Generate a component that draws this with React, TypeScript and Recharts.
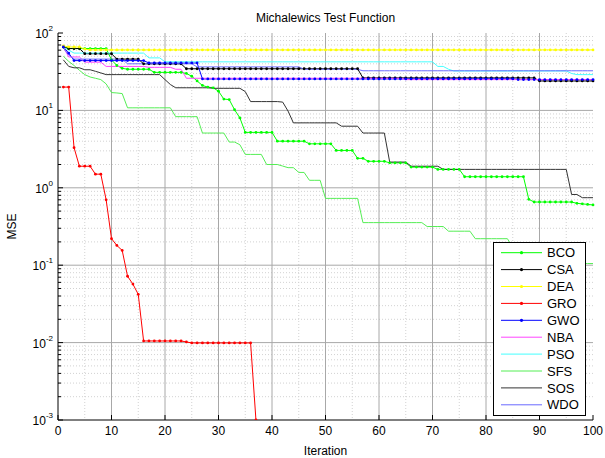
import {
  CartesianGrid,
  Legend,
  Line,
  LineChart,
  XAxis,
  YAxis,
} from "recharts";

const FONT = "'Liberation Sans', Arial, Helvetica, sans-serif";

const iterations = Array.from({ length: 100 }, (_, i) => i + 1);

// best-so-far MSE per iteration
const bco = [
  66, 63, 63, 63, 63, 63, 63, 63, 63, 45,
  38, 35, 34, 34, 34, 34, 34, 31, 31, 31,
  31, 31, 31, 30, 27.6, 24, 21, 20, 19.6, 17.7,
  14, 13.8, 10.2, 8, 5.2, 5.2, 5.2, 5.2, 5.2, 5.2,
  4, 4, 4, 4, 4, 4, 3.7, 3.7, 3.7, 3.7,
  3.7, 3.04, 3.04, 3.04, 3.04, 2.4, 2.4, 2.2, 2.2, 2.2,
  2.2, 2.1, 2.1, 2.1, 2.1, 1.85, 1.85, 1.85, 1.85, 1.85,
  1.73, 1.73, 1.73, 1.73, 1.73, 1.39, 1.39, 1.39, 1.39, 1.39,
  1.39, 1.39, 1.39, 1.39, 1.39, 1.39, 1.39, 0.71, 0.655, 0.655,
  0.655, 0.655, 0.655, 0.655, 0.655, 0.655, 0.63, 0.62, 0.61, 0.6,
];

const csa = [
  66, 63, 63, 63, 54, 54, 54, 54, 54, 54,
  46, 46, 46, 46, 46, 40, 40, 40, 40, 40,
  40, 40, 40, 34.5, 34.5, 34.5, 34.5, 34.5, 34.5, 34.5,
  34.5, 34.5, 34.5, 34.5, 34.5, 34.5, 34.5, 34.5, 34.5, 34.5,
  34.5, 34.5, 34.5, 34.5, 34.5, 34.5, 34.5, 34.5, 34.5, 34.5,
  34.5, 34.5, 34.5, 34.5, 34.5, 34.5, 26.3, 26.3, 26.3, 26.3,
  26.3, 26.3, 26.3, 26.3, 26.3, 26.3, 26.3, 26.3, 26.3, 26.3,
  26.3, 26.3, 26.3, 26.3, 26.3, 26.3, 26.3, 26.3, 26.3, 26.3,
  26.3, 26.3, 26.3, 26.3, 26.3, 26.3, 26.3, 26.3, 26.3, 24,
  24, 24, 24, 24, 24, 24, 24, 24, 24, 24,
];

const dea = [
  68, 66, 66, 66, 62, 60.5, 60.5, 60.5, 60.5, 60.5,
  60.5, 60.5, 60.5, 60.5, 60.5, 60.5, 60.5, 60.5, 60.5, 60.5,
  60.5, 60.5, 60.5, 60.5, 60.5, 60.5, 60.5, 60.5, 60.5, 60.5,
  60.5, 60.5, 60.5, 60.5, 60.5, 60.5, 60.5, 60.5, 60.5, 60.5,
  60.5, 60.5, 60.5, 60.5, 60.5, 60.5, 60.5, 60.5, 60.5, 60.5,
  60.5, 60.5, 60.5, 60.5, 60.5, 60.5, 60.5, 60.5, 60.5, 60.5,
  60.5, 60.5, 60.5, 60.5, 60.5, 60.5, 60.5, 60.5, 60.5, 60.5,
  60.5, 60.5, 60.5, 60.5, 60.5, 60.5, 60.5, 60.5, 60.5, 60.5,
  60.5, 60.5, 60.5, 60.5, 60.5, 60.5, 60.5, 60.5, 60.5, 60.5,
  60.5, 60.5, 60.5, 60.5, 60.5, 60.5, 60.5, 60.5, 60.5, 60.5,
];

const gro = [
  20, 20, 3.3, 1.9, 1.9, 1.9, 1.5, 1.5, 0.7, 0.22,
  0.18, 0.155, 0.072, 0.057, 0.042, 0.0105, 0.0105, 0.0105, 0.0105, 0.0105,
  0.0105, 0.0105, 0.0105, 0.0102, 0.0099, 0.0099, 0.0099, 0.0099, 0.0099, 0.0099,
  0.0099, 0.0099, 0.0099, 0.0099, 0.0099, 0.0099, 0.001, null, null, null,
  null, null, null, null, null, null, null, null, null, null,
  null, null, null, null, null, null, null, null, null, null,
  null, null, null, null, null, null, null, null, null, null,
  null, null, null, null, null, null, null, null, null, null,
  null, null, null, null, null, null, null, null, null, null,
  null, null, null, null, null, null, null, null, null, null,
];

const gwo = [
  66, 55, 44, 44, 44, 44, 44, 44, 44, 44,
  44, 44, 44, 44, 44, 44, 41, 41, 41, 41,
  41, 41, 41, 41, 41, 41, 25.5, 25.5, 25.5, 25.5,
  25.5, 25.5, 25.5, 25.5, 25.5, 25.5, 25.5, 25.5, 25.5, 25.5,
  25.5, 25.5, 25.5, 25.5, 25.5, 25.5, 25.5, 25.5, 25.5, 25.5,
  25.5, 25.5, 25.5, 25.5, 25.5, 25.5, 25.5, 25.5, 25.5, 25.5,
  25.5, 25.5, 25.5, 25.5, 25.5, 25.5, 25.5, 25.5, 25.5, 25.5,
  25.5, 25.5, 25.5, 25.5, 25.5, 25.5, 25.5, 25.5, 25.5, 25.5,
  25.5, 25.5, 25.5, 25.5, 25.5, 25, 25, 25, 25, 25,
  25, 25, 25, 25, 25, 25, 25, 25, 25, 25,
];

const nba = [
  66, 49, 49, 49, 42, 42, 42, 42, 37, 37,
  37, 37, 37, 37, 37, 37, 36, 36, 36, 36,
  36, 34, 34, 26, 26, 26, 26, 26, 26, 26,
  26, 26, 26, 26, 26, 26, 26, 26, 26, 26,
  26, 26, 26, 26, 26, 26, 26, 26, 26, 26,
  26, 26, 26, 26, 26, 26, 26, 26, 26, 26,
  26, 26, 26, 26, 25, 25, 25, 25, 25, 25,
  25, 25, 25, 25, 25, 25, 25, 25, 25, 25,
  25, 25, 25, 25, 25, 25, 25, 25, 25, 25,
  25, 25, 25, 25, 25, 25, 25, 25, 25, 25,
];

const pso = [
  66, 60, 55, 55, 55, 55, 55, 55, 55, 55,
  55, 55, 55, 55, 55, 55, 47.7, 47.7, 47.7, 42.4,
  42.4, 42.4, 42.4, 42.4, 42.4, 42.4, 42.4, 42.4, 42.4, 42.4,
  42.4, 42.4, 42.4, 42.4, 42.4, 42.4, 42.4, 42.4, 42.4, 42.4,
  42.4, 42.4, 42.4, 42.4, 42.4, 42.4, 42.4, 42.4, 42.4, 42.4,
  42.4, 42.4, 42.4, 42.4, 42.4, 42.4, 42.4, 42.4, 42.4, 42.4,
  42.4, 42.4, 42.4, 42.4, 42.4, 42.4, 42.4, 42.4, 42.4, 42.4,
  37, 37, 34, 32.3, 32.3, 32.3, 32.3, 32.3, 32.3, 32.3,
  32.3, 32.3, 32.3, 32.3, 32.3, 32.3, 32.3, 32.3, 32.3, 32.3,
  32.3, 32.3, 32.3, 32.3, 32.3, 30, 29, 29, 29, 29,
];

const sfs = [
  50, 43, 38, 33, 29, 27, 26, 25, 22, 17,
  16.8, 16.5, 10.8, 10.8, 10.8, 10.8, 10.8, 10.8, 10.8, 10.8,
  10.8, 8.3, 8.3, 8.3, 8.3, 8.3, 5.1, 5.1, 5.1, 5.1,
  5.1, 3.9, 3.9, 3.6, 2.7, 2.7, 2.7, 2.7, 2, 2,
  2, 1.91, 1.82, 1.82, 1.58, 1.58, 1.25, 1.25, 1.25, 0.73,
  0.73, 0.73, 0.73, 0.73, 0.73, 0.73, 0.355, 0.355, 0.355, 0.355,
  0.355, 0.355, 0.355, 0.355, 0.355, 0.355, 0.355, 0.355, 0.316, 0.316,
  0.316, 0.316, 0.275, 0.275, 0.275, 0.275, 0.275, 0.22, 0.22, 0.22,
  0.22, 0.22, 0.22, 0.22, 0.17, 0.17, 0.17, 0.17, 0.17, 0.17,
  0.17, 0.17, 0.13, 0.13, 0.13, 0.13, 0.105, 0.105, 0.105, 0.105,
];

const sos = [
  45, 37, 35.5, 35.5, 33.5, 33.5, 32, 30.5, 29, 29,
  29, 29, 29, 29, 29, 29, 29, 29, 29, 25,
  21.6, 19.6, 19.6, 19.6, 19.6, 19.6, 19.6, 19.6, 19.3, 19.3,
  19.3, 19.3, 19.3, 19.3, 17.5, 13, 13, 13, 13, 13,
  13, 12.8, 9.8, 6.9, 6.9, 6.9, 6.9, 6.9, 6.9, 6.9,
  6.9, 6.9, 6.25, 6.25, 6.25, 6.25, 5.1, 5.1, 5.1, 5.1,
  5.1, 2.15, 2.15, 2.15, 2.15, 1.9, 1.9, 1.9, 1.9, 1.9,
  1.9, 1.73, 1.73, 1.73, 1.73, 1.73, 1.73, 1.73, 1.73, 1.73,
  1.73, 1.73, 1.73, 1.73, 1.73, 1.73, 1.73, 1.73, 1.73, 1.73,
  1.73, 1.73, 1.73, 1.73, 1.73, 0.82, 0.82, 0.745, 0.745, 0.745,
];

const wdo = [
  64, 52, 46, 46, 46, 46, 46, 46, 46, 46,
  46, 46, 40, 40, 40, 40, 40, 40, 40, 40,
  40, 40, 40, 40, 40, 36.5, 36.5, 36.5, 36.5, 36.5,
  36.5, 36.5, 36.5, 36.5, 36.5, 36.5, 36.5, 36.5, 36.5, 36.5,
  36.5, 36.5, 36.5, 36.5, 36.5, 34, 34, 34, 34, 34,
  34, 34, 34, 34, 34, 34, 32.5, 32.5, 32.5, 32.5,
  32.5, 32.5, 32.5, 32.5, 32.5, 32.5, 32.5, 32.5, 32.5, 32.5,
  32.5, 32.5, 32.5, 32.5, 32.5, 32.5, 32.5, 32.5, 32.5, 32.5,
  32.5, 32.5, 32.5, 32.5, 32.5, 32.5, 32.5, 32.5, 32.5, 32.5,
  32.5, 32.5, 32.5, 32.5, 32.5, 32.5, 32.5, 32.5, 32.5, 32.5,
];

const seriesNames = ["BCO", "CSA", "DEA", "GRO", "GWO", "NBA", "PSO", "SFS", "SOS", "WDO"];
const seriesValues = [bco, csa, dea, gro, gwo, nba, pso, sfs, sos, wdo];
const seriesColors = [
  "#00ff00", "#000000", "#ffff00", "#ff0000", "#0000ff",
  "#ff44ff", "#44ffff", "#55ee55", "#333333", "#6a6aff",
];
const seriesMarkers = [true, true, true, true, true, false, false, false, false, false];

const xTicks = [0, 10, 20, 30, 40, 50, 60, 70, 80, 90, 100];
const xMajorGrid = [10, 20, 30, 40, 50, 60, 70, 80, 90];
const xMinorGrid = [5, 15, 25, 35, 45, 55, 65, 75, 85, 95];
const yDecades = [0.001, 0.01, 0.1, 1, 10, 100];
const yMajorGrid = [0.01, 0.1, 1, 10];
const yMinorGrid = yDecades
  .slice(0, -1)
  .flatMap((d) => [2, 3, 4, 5, 6, 7, 8, 9].map((m) => m * d));
const yTicks = [...yDecades, ...yMinorGrid].sort((a, b) => a - b);

const chartData = iterations.map((iter, i) => {
  const row: Record<string, number | null> = { iter };
  seriesNames.forEach((name, s) => {
    row[name] = seriesValues[s][i];
  });
  return row;
});

function isDecade(value: number) {
  const e = Math.log10(value);
  return Math.abs(e - Math.round(e)) < 1e-6;
}

function LeftTick({ x, y, payload }: any) {
  const major = isDecade(payload.value);
  const exp = Math.round(Math.log10(payload.value));
  return (
    <g>
      <line x1={x} x2={x + (major ? 5 : 3)} y1={y} y2={y} stroke="#000" />
      {major && (
        <text x={x - 5} y={y + 5} textAnchor="end" fontSize={12} fontFamily={FONT} fill="#000">
          10
          <tspan dy={-7} fontSize={8}>
            {exp}
          </tspan>
        </text>
      )}
    </g>
  );
}

function RightTick({ x, y, payload }: any) {
  const major = isDecade(payload.value);
  return <line x1={x} x2={x - (major ? 5 : 3)} y1={y} y2={y} stroke="#000" />;
}

function BottomTick({ x, y, payload }: any) {
  return (
    <g>
      <line x1={x} x2={x} y1={y} y2={y - 5} stroke="#000" />
      <text x={x} y={y + 15} textAnchor="middle" fontSize={12} fontFamily={FONT} fill="#000">
        {payload.value}
      </text>
    </g>
  );
}

function TopTick({ x, y }: any) {
  return <line x1={x} x2={x} y1={y} y2={y + 5} stroke="#000" />;
}

function LegendBox() {
  return (
    <svg width={93} height={174} style={{ display: "block" }}>
      <rect x={0.5} y={0.5} width={92} height={173} fill="#fff" stroke="#000" />
      {seriesNames.map((name, i) => {
        const cy = 10.7 + 16.9 * i;
        return (
          <g key={name}>
            <line x1={8} x2={49} y1={cy} y2={cy} stroke={seriesColors[i]} />
            {seriesMarkers[i] && <circle cx={28.5} cy={cy} r={1.6} fill={seriesColors[i]} />}
            <text x={54} y={cy} dy="0.36em" fontSize={13} fontFamily={FONT} fill="#000">
              {name}
            </text>
          </g>
        );
      })}
    </svg>
  );
}

export default function App() {
  return (
    <div style={{ position: "absolute", left: 0, top: 0, width: 605, height: 458, background: "#fff" }}>
      <div
        style={{
          position: "absolute",
          left: 58,
          top: 11,
          width: 535,
          textAlign: "center",
          fontFamily: FONT,
          fontSize: 12,
          lineHeight: "14px",
          color: "#000",
        }}
      >
        Michalewics Test Function
      </div>
      <LineChart
        width={605}
        height={458}
        data={chartData}
        margin={{ top: 33, right: 12, bottom: 0, left: 8 }}
      >
        <CartesianGrid
          horizontalValues={yMinorGrid}
          verticalValues={xMinorGrid}
          stroke="#d2d2d2"
          strokeDasharray="1 2"
        />
        <CartesianGrid horizontalValues={yMajorGrid} verticalValues={xMajorGrid} stroke="#a8a8a8" />
        <XAxis
          dataKey="iter"
          type="number"
          domain={[0, 100]}
          ticks={xTicks}
          interval={0}
          height={38}
          tickSize={0}
          tickMargin={0}
          tickLine={false}
          axisLine={{ stroke: "#000" }}
          tick={(props: any) => <BottomTick {...props} />}
          label={{
            value: "Iteration",
            position: "insideBottom",
            offset: 3,
            fill: "#000",
            fontSize: 12,
            fontFamily: FONT,
          }}
        />
        <XAxis
          xAxisId="top"
          orientation="top"
          type="number"
          domain={[0, 100]}
          allowDataOverflow
          ticks={xTicks}
          interval={0}
          height={0}
          tickSize={0}
          tickMargin={0}
          tickLine={false}
          axisLine={{ stroke: "#000" }}
          tick={(props: any) => <TopTick {...props} />}
        />
        <YAxis
          scale="log"
          domain={[0.001, 100]}
          allowDataOverflow
          ticks={yTicks}
          interval={0}
          width={50}
          tickSize={0}
          tickMargin={0}
          tickLine={false}
          axisLine={{ stroke: "#000" }}
          tick={(props: any) => <LeftTick {...props} />}
          label={{
            value: "MSE",
            angle: -90,
            position: "insideLeft",
            offset: 4,
            fill: "#000",
            fontSize: 12,
            fontFamily: FONT,
            style: { textAnchor: "middle" },
          }}
        />
        <YAxis
          yAxisId="right"
          orientation="right"
          scale="log"
          domain={[0.001, 100]}
          allowDataOverflow
          ticks={yTicks}
          interval={0}
          width={0}
          tickSize={0}
          tickMargin={0}
          tickLine={false}
          axisLine={{ stroke: "#000" }}
          tick={(props: any) => <RightTick {...props} />}
        />
        {seriesNames.map((name, i) => (
          <Line
            key={name}
            dataKey={name}
            type="linear"
            stroke={seriesColors[i]}
            strokeWidth={1}
            dot={seriesMarkers[i] ? { r: 1.4, fill: seriesColors[i], stroke: "none" } : false}
            activeDot={false}
            connectNulls={false}
            isAnimationActive={false}
          />
        ))}
        <Legend
          layout="vertical"
          align="center"
          verticalAlign="middle"
          content={() => <LegendBox />}
          wrapperStyle={{ left: 493, top: 242, width: 93, height: 174, right: "auto", bottom: "auto" }}
        />
      </LineChart>
    </div>
  );
}
